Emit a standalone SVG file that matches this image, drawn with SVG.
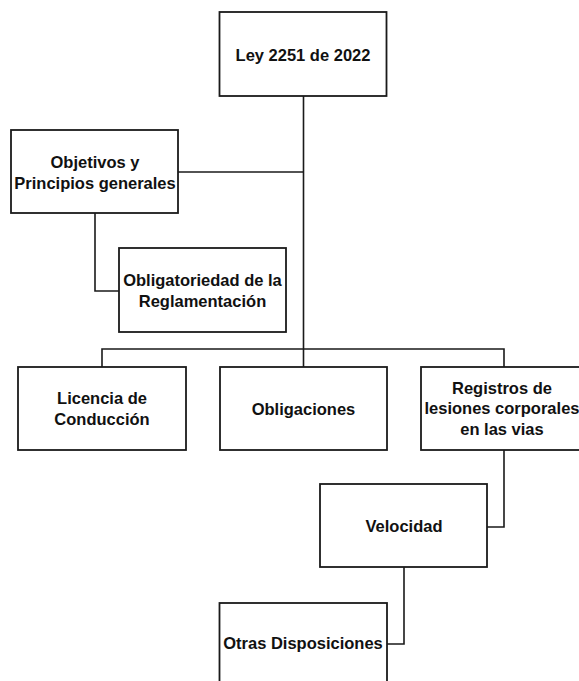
<svg xmlns="http://www.w3.org/2000/svg" width="579" height="681" viewBox="0 0 579 681">
<style>
.box{fill:#ffffff;stroke:#1a1a1a;stroke-width:1.8}
.con{fill:none;stroke:#1a1a1a;stroke-width:1.6}
text{font-family:"Liberation Sans",Arial,sans-serif;font-weight:bold;font-size:16.5px;fill:#111;text-anchor:middle;dominant-baseline:central}
</style>
<rect width="579" height="681" fill="#ffffff"/>
<g id="connectors">
<path class="con" d="M303.5,96 V367"/>
<path class="con" d="M178,172 H303.5"/>
<path class="con" d="M95,213 V291 H119"/>
<path class="con" d="M102,367 V349 H504 V367"/>
<path class="con" d="M504,450 V527 H487"/>
<path class="con" d="M404,567 V644 H387"/>
</g>
<g id="ley">
<rect class="box" x="219.5" y="12" width="167" height="84"/>
<text x="303" y="55">Ley 2251 de 2022</text>
</g>
<g id="objetivos">
<rect class="box" x="11" y="130" width="167" height="83"/>
<text x="95" y="162">Objetivos y</text>
<text x="95" y="183">Principios generales</text>
</g>
<g id="obligatoriedad">
<rect class="box" x="119" y="248" width="167" height="84"/>
<text x="202.5" y="280">Obligatoriedad de la</text>
<text x="202.5" y="301">Reglamentación</text>
</g>
<g id="licencia">
<rect class="box" x="18" y="367" width="168" height="83"/>
<text x="102" y="398">Licencia de</text>
<text x="102" y="419">Conducción</text>
</g>
<g id="obligaciones">
<rect class="box" x="220" y="367" width="167" height="83"/>
<text x="303.5" y="409">Obligaciones</text>
</g>
<g id="registros">
<rect class="box" x="421" y="367" width="168" height="83"/>
<text x="502" y="388">Registros de</text>
<text x="502" y="408">lesiones corporales</text>
<text x="502" y="429">en las vias</text>
</g>
<g id="velocidad">
<rect class="box" x="320" y="484" width="167" height="83"/>
<text x="404" y="526">Velocidad</text>
</g>
<g id="otras">
<rect class="box" x="219.5" y="603" width="167.5" height="84"/>
<text x="303" y="643">Otras Disposiciones</text>
</g>
</svg>
